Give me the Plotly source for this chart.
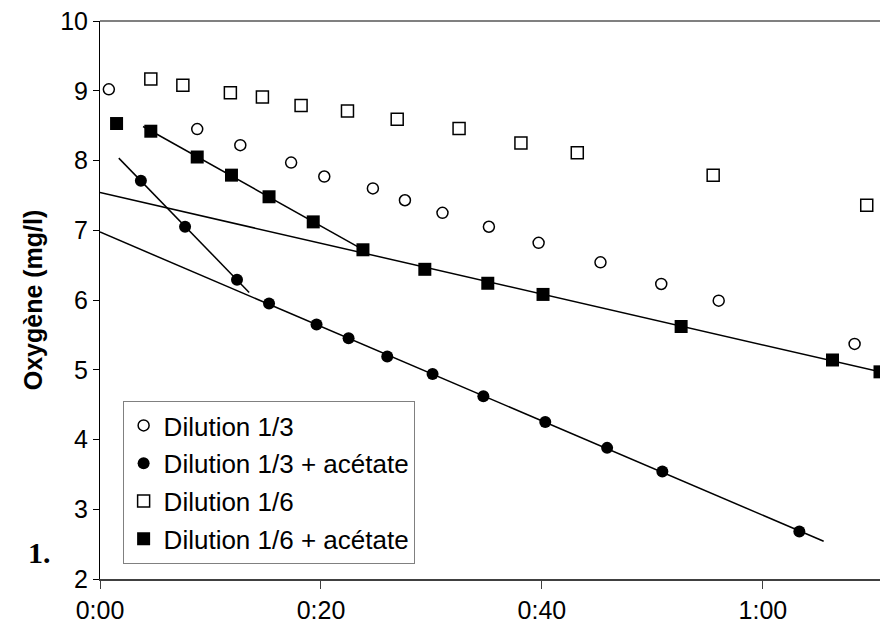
import numpy as np
import plotly.graph_objects as go

# time in minutes, oxygen in mg/l
t_d13 = [0.8, 8.8, 12.7, 17.3, 20.3, 24.7, 27.6, 31.0, 35.2, 39.7, 45.3, 50.8, 56.0, 68.3]
o_d13 = [9.02, 8.45, 8.22, 7.97, 7.77, 7.60, 7.43, 7.25, 7.05, 6.82, 6.54, 6.23, 5.99, 5.37]

t_d13a = [3.7, 7.7, 12.4, 15.3, 19.6, 22.5, 26.0, 30.1, 34.7, 40.3, 45.9, 50.9, 63.3]
o_d13a = [7.71, 7.05, 6.29, 5.95, 5.65, 5.45, 5.19, 4.94, 4.62, 4.25, 3.88, 3.54, 2.68]

t_d16 = [4.6, 7.5, 11.8, 14.7, 18.2, 22.4, 26.9, 32.5, 38.1, 43.2, 55.5, 69.4]
o_d16 = [9.17, 9.08, 8.97, 8.91, 8.79, 8.71, 8.59, 8.46, 8.25, 8.11, 7.79, 7.36]

t_d16a = [1.5, 4.6, 8.8, 11.9, 15.3, 19.3, 23.8, 29.4, 35.1, 40.1, 52.6, 66.3, 70.6]
o_d16a = [8.53, 8.42, 8.05, 7.79, 7.48, 7.12, 6.72, 6.44, 6.24, 6.08, 5.62, 5.14, 4.97]

# linear trend lines: (series, first index, last index, x from, x to)
trends = [
    ("d13a", 0, 2, 1.7, 13.5),
    ("d13a", 3, 12, 0.0, 65.5),
    ("d16a", 1, 6, 3.9, 23.8),
    ("d16a", 6, 12, 0.0, 70.6),
]

x_ticks = [0, 20, 40, 60]
x_labels = ["0:00", "0:20", "0:40", "1:00"]

series = {"d13a": (t_d13a, o_d13a), "d16a": (t_d16a, o_d16a)}

FONT = "Liberation Sans, Arial, sans-serif"
fig = go.Figure()

for key, i0, i1, xa, xb in trends:
    xs, ys = series[key]
    k, b = np.polyfit(xs[i0:i1 + 1], ys[i0:i1 + 1], 1)
    xx = np.array([xa, xb])
    fig.add_trace(go.Scatter(x=xx, y=k * xx + b, mode="lines",
                             line=dict(color="black", width=1.5),
                             showlegend=False, hoverinfo="skip"))

fig.add_trace(go.Scatter(x=t_d13, y=o_d13, mode="markers", name="Dilution 1/3",
                         legendgroup="a",
                         marker=dict(symbol="circle-open", size=11, color="black",
                                     line=dict(width=1.5, color="black"))))
fig.add_trace(go.Scatter(x=t_d13a, y=o_d13a, mode="markers", name="Dilution 1/3 + acétate",
                         legendgroup="b",
                         marker=dict(symbol="circle", size=12, color="black")))
fig.add_trace(go.Scatter(x=t_d16, y=o_d16, mode="markers", name="Dilution 1/6",
                         legendgroup="c",
                         marker=dict(symbol="square-open", size=12, color="black",
                                     line=dict(width=1.5, color="black"))))
fig.add_trace(go.Scatter(x=t_d16a, y=o_d16a, mode="markers", name="Dilution 1/6 + acétate",
                         legendgroup="d",
                         marker=dict(symbol="square", size=13, color="black")))

fig.update_layout(
    width=882, height=629,
    margin=dict(l=100, r=2, t=21, b=50),
    paper_bgcolor="white", plot_bgcolor="white",
    font=dict(family=FONT, size=25, color="black"),
    xaxis=dict(range=[0, 70.6], tickvals=x_ticks, ticktext=x_labels,
               ticks="outside", ticklen=8, tickcolor="#404040", tickwidth=1,
               showline=True, linecolor="#404040", linewidth=2,
               showgrid=False, zeroline=False, tickfont=dict(size=25)),
    yaxis=dict(range=[2, 10], dtick=1, ticks="outside", ticklen=6,
               tickcolor="black", showline=True, linecolor="black", linewidth=1,
               showgrid=False, zeroline=False, tickfont=dict(size=25),
               title=dict(text="<b>Oxygène (mg/l)</b>", font=dict(size=25), standoff=10)),
    legend=dict(x=0.029, y=0.319, xanchor="left", yanchor="top",
                bordercolor="#808080", borderwidth=1, bgcolor="white",
                font=dict(size=26), traceorder="grouped", tracegroupgap=1),
    showlegend=True,
)

fig.add_shape(type="line", xref="paper", yref="paper", x0=0, x1=1, y0=1, y1=1,
              line=dict(color="#808080", width=2))
fig.add_annotation(text="<b>1.</b>", xref="paper", yref="paper", x=-0.095, y=0.015,
                   showarrow=False, font=dict(family="Liberation Serif, Times New Roman, serif",
                                              size=30, color="black"))

fig.write_html("out.html")
